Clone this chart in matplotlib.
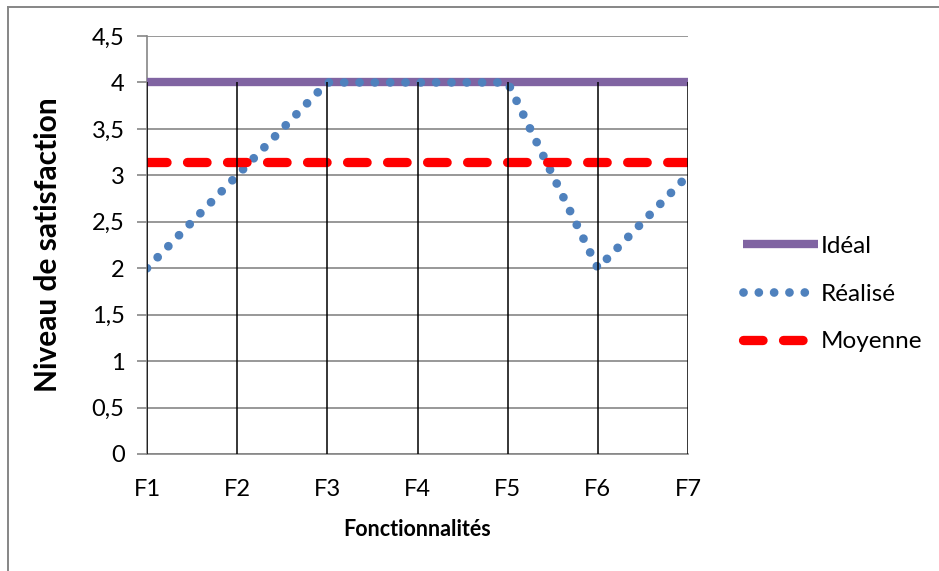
import matplotlib
matplotlib.use("Agg")
import matplotlib.pyplot as plt
from matplotlib.lines import Line2D
import numpy as np

categories = ["F1", "F2", "F3", "F4", "F5", "F6", "F7"]
ideal = [4, 4, 4, 4, 4, 4, 4]
realise = [2, 3, 4, 4, 4, 2, 3]
moyenne_val = round(sum(realise) / len(realise), 2)
moyenne = [moyenne_val] * len(categories)
y_ticks = [0, 0.5, 1, 1.5, 2, 2.5, 3, 3.5, 4, 4.5]
y_tick_labels = ["0", "0,5", "1", "1,5", "2", "2,5", "3", "3,5", "4", "4,5"]

plt.rcParams['font.family'] = ['Lato', 'DejaVu Sans']

W, H = 939, 571
fig = plt.figure(figsize=(W / 100, H / 100), dpi=100)
ax = fig.add_axes([147 / W, 1 - 454 / H, (688 - 147) / W, (454 - 36) / H])

x = np.arange(len(categories))
grey = "#868686"

ax.plot(x, ideal, color="#8064A2", lw=6.0, solid_capstyle="butt", label="Idéal", zorder=3)
ax.plot(x, realise, color="#4F81BD", lw=6.3, linestyle=(0, (0.001, 1.75)),
        dash_capstyle="round", label="Réalisé", zorder=4)
ax.plot(x, moyenne, color="#FF0000", lw=6.7, linestyle=(0, (2.1, 2.2)),
        dash_capstyle="round", label="Moyenne", zorder=5)

top = np.maximum(np.maximum(ideal, realise), moyenne)
ax.vlines(x, 0, top, color="black", lw=1.1, zorder=6)

ax.set_xlim(0, len(categories) - 1)
ax.set_ylim(0, 4.5)
ax.set_xticks(x)
ax.set_xticklabels(categories)
ax.set_yticks(y_ticks)
ax.set_yticklabels(y_tick_labels)
ax.grid(axis="y", color=grey, lw=1.2, zorder=0)
ax.set_axisbelow(True)

for s in ["top", "right"]:
    ax.spines[s].set_visible(False)
ax.spines["left"].set_color(grey)
ax.spines["bottom"].set_color(grey)
ax.spines["left"].set_linewidth(1.2)
ax.spines["bottom"].set_linewidth(1.2)
ax.spines["left"].set_zorder(1)
ax.spines["bottom"].set_zorder(1)

ax.tick_params(axis="y", direction="out", length=7.2, width=1.2, color=grey,
               labelsize=17, pad=9)
ax.tick_params(axis="x", length=0, labelsize=17, pad=18)

ax.set_xlabel("Fonctionnalités", fontsize=15.5, fontweight="bold")
ax.xaxis.set_label_coords(0.5, -(530 - 454) / (454 - 36))
ax.xaxis.label.set_va("center")
ax.set_ylabel("Niveau de satisfaction", fontsize=21.5, fontweight="bold")
ax.yaxis.set_label_coords(-(147 - 48) / (688 - 147), 0.5)
ax.yaxis.label.set_va("center")

leg = ax.legend(loc="center left", bbox_to_anchor=(721 / W, 1 - 294 / H),
                bbox_transform=fig.transFigure, frameon=False, fontsize=17.5,
                handlelength=3.1, handletextpad=0.12, labelspacing=1.1)

fig.add_artist(Line2D([7.5 / W, 7.5 / W], [0, 1 - 6.5 / H], transform=fig.transFigure,
                      color=grey, lw=1.4))
fig.add_artist(Line2D([7.5 / W, 1], [1 - 6.5 / H, 1 - 6.5 / H], transform=fig.transFigure,
                      color=grey, lw=1.4))

fig.savefig("out.png", dpi=100)
